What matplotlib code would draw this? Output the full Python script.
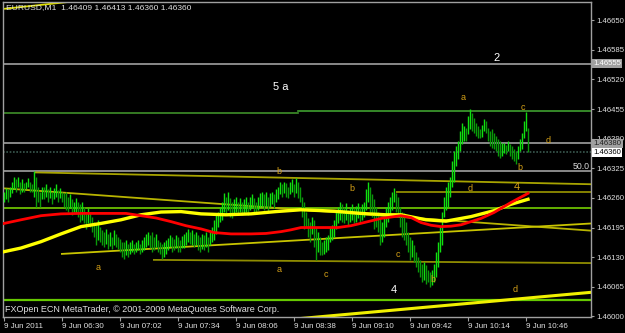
import matplotlib
matplotlib.use('Agg')
import matplotlib.pyplot as plt
import numpy as np

plt.rcParams['font.family'] = ['Liberation Sans', 'DejaVu Sans']

# ---------------- data (prices in points above 1.46000, 1 point = 0.00001) ----------------
BASE = 1.46
PT = 1e-5

high_pts = [
    274, 281, 279, 285, 296, 305, 301, 307, 296, 301,
    292, 296, 303, 296, 290, 319, 307, 285, 274, 285,
    283, 290, 279, 285, 274, 281, 290, 277, 281, 274,
    270, 274, 263, 268, 257, 252, 259, 252, 246, 252,
    241, 230, 237, 226, 219, 208, 204, 212, 197, 190,
    186, 192, 181, 186, 175, 190, 181, 175, 170, 164,
    164, 168, 159, 164, 168, 159, 164, 168, 159, 168,
    175, 181, 186, 179, 186, 175, 181, 168, 164, 159,
    164, 168, 173, 179, 175, 170, 179, 175, 168, 177,
    181, 186, 192, 186, 190, 181, 186, 179, 175, 181,
    179, 186, 175, 190, 197, 212, 226, 230, 241, 252,
    270, 263, 274, 259, 252, 257, 263, 252, 259, 252,
    257, 263, 252, 261, 268, 259, 252, 263, 270, 274,
    268, 274, 263, 270, 274, 268, 279, 285, 296, 290,
    296, 292, 285, 296, 301, 290, 303, 296, 285, 263,
    252, 230, 215, 208, 219, 212, 197, 186, 175, 164,
    168, 175, 179, 197, 201, 212, 230, 241, 252, 246,
    241, 248, 234, 241, 246, 237, 243, 248, 239, 246,
    252, 279, 296, 285, 268, 257, 241, 230, 215, 208,
    219, 241, 252, 263, 274, 281, 270, 263, 241, 230,
    226, 208, 186, 175, 168, 157, 142, 131, 124, 115,
    119, 113, 102, 97, 102, 115, 142, 164, 197, 230,
    263, 285, 296, 307, 341, 363, 374, 385, 407, 425,
    418, 414, 440, 456, 447, 436, 425, 418, 411, 420,
    434, 429, 414, 407, 411, 403, 396, 389, 385, 380,
    380, 376, 385, 378, 374, 367, 363, 374, 389, 403,
    429, 449, 413,
]
low_pts = [
    252, 257, 252, 261, 270, 279, 274, 283, 268, 274,
    274, 279, 283, 274, 274, 263, 241, 252, 241, 257,
    257, 263, 252, 259, 246, 257, 263, 252, 259, 252,
    241, 234, 230, 237, 223, 230, 226, 219, 208, 212,
    204, 192, 204, 197, 186, 175, 157, 168, 164, 157,
    153, 159, 148, 155, 148, 157, 153, 148, 142, 131,
    126, 135, 131, 137, 142, 137, 142, 146, 137, 142,
    146, 153, 157, 150, 142, 146, 153, 142, 137, 126,
    131, 137, 146, 153, 142, 146, 150, 142, 142, 150,
    150, 157, 164, 159, 157, 153, 157, 146, 142, 148,
    146, 153, 142, 157, 164, 168, 181, 197, 208, 212,
    230, 226, 234, 219, 215, 226, 230, 223, 230, 223,
    226, 230, 223, 234, 237, 230, 226, 234, 239, 241,
    234, 241, 230, 239, 246, 237, 252, 257, 268, 263,
    270, 263, 259, 268, 274, 263, 270, 259, 252, 219,
    192, 197, 175, 164, 181, 153, 124, 142, 135, 135,
    137, 142, 146, 164, 168, 175, 192, 204, 212, 208,
    204, 212, 201, 208, 212, 204, 208, 217, 206, 212,
    219, 234, 252, 230, 219, 192, 197, 186, 157, 164,
    175, 197, 208, 219, 234, 252, 230, 219, 197, 175,
    168, 157, 142, 124, 131, 119, 108, 97, 86, 75,
    80, 71, 75, 64, 69, 75, 86, 108, 142, 157,
    219, 234, 241, 263, 285, 296, 330, 345, 363, 378,
    385, 385, 400, 411, 407, 403, 396, 392, 392, 394,
    407, 403, 385, 374, 369, 367, 363, 352, 347, 352,
    358, 356, 363, 352, 345, 341, 334, 345, 363, 367,
    392, 407, 360,
]

# moving averages (bar index, points)
ma_red_bar = [0, 8.5, 18.5, 28.5, 38.5, 48.5, 61, 68.5, 76, 83.5, 91, 98.5, 105, 113.5,
              123.5, 131, 138.5, 143.5, 148.5, 158.5, 167, 173.5, 182, 188.5, 198.5,
              203.5, 208.5, 213.5, 218.5, 223.5, 228.5, 233.5, 238.5, 245, 253.5, 262]
ma_red_pts = [204, 212, 221, 225, 226, 226, 226, 221, 216, 208, 199, 192, 184, 181,
              181, 182, 186, 190, 195, 195, 195, 199, 208, 215, 221,
              217, 206, 200, 197, 198, 201, 208, 215, 228, 250, 270]
ma_yel_bar = [0, 8.5, 18.5, 28.5, 38.5, 48.5, 58.5, 68.5, 78.5, 88.5, 98.5, 111, 123.5,
              136, 148.5, 165, 178.5, 191, 198.5, 211, 221, 233.5, 245, 253.5, 262]
ma_yel_pts = [142, 150, 164, 181, 197, 204, 212, 223, 229, 230, 225, 223, 225,
              230, 234, 231, 226, 223, 223, 212, 209, 219, 232, 246, 257]

# trend lines: (bar0, pts0, bar1, pts1, colour, width)
trend_lines = [
    (15.5, 316, 294, 290, '#a8a400', 1.3),
    (0, 281, 294, 188, '#b8b400', 1.3),
    (28.5, 137, 294, 204, '#c8c400', 1.3),
    (74.5, 124, 294, 117, '#8f8c00', 1.3),
    (196, 272, 294, 272, '#8f8c00', 1.3),
    (142.5, -7, 294, 53, '#f0f000', 2.2),
    (0, 675, 32, 690, '#e0e000', 1.3),
]

# horizontal lines
green_top_pts = [447, 450]
green_mid_pts = 237
green_low_pts = 36
gray_lines_pts = [555, 380, 319]
bid_pts = 360

# annotations: (text, bar, pts, colour, size)
labels = [
    ('5 a', 138.5, 504, 'white', 8),
    ('2', 246.5, 566, 'white', 8),
    ('4', 195, 58, 'white', 8),
    ('a', 229.5, 480, '#d4a017', 6.5),
    ('c', 259.5, 458, '#d4a017', 6.5),
    ('d', 272, 385, '#d4a017', 6.5),
    ('b', 258, 327, '#d4a017', 6.5),
    ('d', 233, 281, '#d4a017', 6.5),
    ('4', 256.5, 285, '#d4a017', 8),
    ('b', 137.5, 319, '#d4a017', 6.5),
    ('b', 174, 281, '#d4a017', 6.5),
    ('c', 197, 135, '#d4a017', 6.5),
    ('a', 137.5, 102, '#d4a017', 6.5),
    ('c', 161, 91, '#d4a017', 6.5),
    ('a', 47, 108, '#d4a017', 6.5),
    ('d', 255.5, 58, '#d4a017', 6.5),
    ('b', 214.5, 80, '#d4a017', 6.5),
]

ytick_prices = [1.46000, 1.46065, 1.46130, 1.46195, 1.46260, 1.46325,
                1.46390, 1.46455, 1.46520, 1.46585, 1.46650]
xtick_bars = [0, 29, 58, 87, 116, 145, 174, 203, 232, 261]
xtick_labels = ['9 Jun 2011', '9 Jun 06:30', '9 Jun 07:02', '9 Jun 07:34', '9 Jun 08:06',
                '9 Jun 08:38', '9 Jun 09:10', '9 Jun 09:42', '9 Jun 10:14', '9 Jun 10:46']
header = 'EURUSD,M1  1.46409 1.46413 1.46360 1.46360'
footer = 'FXOpen ECN MetaTrader, \u00a9 2001-2009 MetaQuotes Software Corp.'

# ---------------- drawing ----------------
def P(v):
    return BASE + np.asarray(v, dtype=float) * PT

W, H = 625, 333
fig = plt.figure(figsize=(W / 100, H / 100), dpi=100, facecolor='black')
ax = fig.add_axes([3 / W, 16 / H, 588 / W, 315 / H])
ax.set_facecolor('black')
ax.set_xlim(-0.5, 293.5)
ax.set_ylim(1.4599864, 1.46690)

highs = P(high_pts)
lows = P(low_pts)
idx = np.arange(len(highs))

# horizontal lines
ax.plot([-0.5, 147], [P(green_top_pts[0])] * 2, color='#3f8f2a', lw=1.2, zorder=1)
ax.plot([147, 293.5], [P(green_top_pts[1])] * 2, color='#3f9f2f', lw=1.2, zorder=1)
for g in gray_lines_pts:
    ax.axhline(P(g), color='#a0a0a0', lw=1.2, zorder=1)
ax.axhline(P(bid_pts), color='#3a5a50', lw=1.2, ls=(0, (1, 1)), zorder=1)
ax.axhline(P(green_mid_pts), color='#7fe000', lw=1.1, zorder=1)
ax.axhline(P(green_low_pts), color='#66c800', lw=1.6, zorder=1)

for b0, p0, b1, p1, c, w in trend_lines:
    ax.plot([b0, b1], [P(p0), P(p1)], color=c, lw=w, zorder=2, solid_capstyle='butt')

# bars
mids = (highs + lows) / 2
up = np.concatenate([[True], mids[1:] >= mids[:-1]])
cols = np.where(up, '#10e010', '#0a9a0a')
ax.vlines(idx, lows, highs, colors=cols, lw=1.0, zorder=3)

# moving averages
ax.plot(ma_yel_bar, P(ma_yel_pts), color='#ffff00', lw=2.4, zorder=4)
ax.plot(ma_red_bar, P(ma_red_pts), color='#ff0000', lw=2.0, zorder=5)

# labels
for t, b, p, c, s in labels:
    ax.text(b, P(p), t, color=c, fontsize=s, ha='center', va='center', zorder=6)
ax.text(292.8, P(330), '50.0', color='#d8d8d8', fontsize=6.3, ha='right', va='center', zorder=6)

# axes styling
for sp in ax.spines.values():
    sp.set_color('#a0a0a0')
    sp.set_linewidth(1.0)
ax.yaxis.tick_right()
ax.set_yticks(ytick_prices)
ax.set_yticklabels(['%.5f' % v for v in ytick_prices])
ax.tick_params(axis='y', colors='#a0a0a0', labelcolor='#e0e0e0', length=2.5, width=0.8,
               labelsize=5.6, pad=1.2)
ax.set_xticks(xtick_bars)
ax.set_xticklabels(xtick_labels, ha='left')
ax.tick_params(axis='x', colors='#a0a0a0', labelcolor='#e0e0e0', length=3, width=0.8,
               labelsize=5.8, pad=1.5)

# price boxes on the right axis
def price_box(p, fc, tc):
    ax.text(1.004, P(p), '%.5f' % (BASE + p * PT), transform=ax.get_yaxis_transform(),
            color=tc, fontsize=5.6, ha='left', va='center', zorder=10, clip_on=False,
            bbox=dict(boxstyle='square,pad=0.15', fc=fc, ec='none'))

price_box(555, '#a0a0a0', 'white')
price_box(380, '#a0a0a0', '#202020')
price_box(360, 'white', 'black')

fig.text(6 / W, 1 - 8 / H, header, color='#e0e0e0', fontsize=6.1, ha='left', va='center')
fig.text(5 / W, 1 - 310 / H, footer, color='#e0e0e0', fontsize=6.5, ha='left', va='center')

fig.savefig('out.png', dpi=100, facecolor='black')
